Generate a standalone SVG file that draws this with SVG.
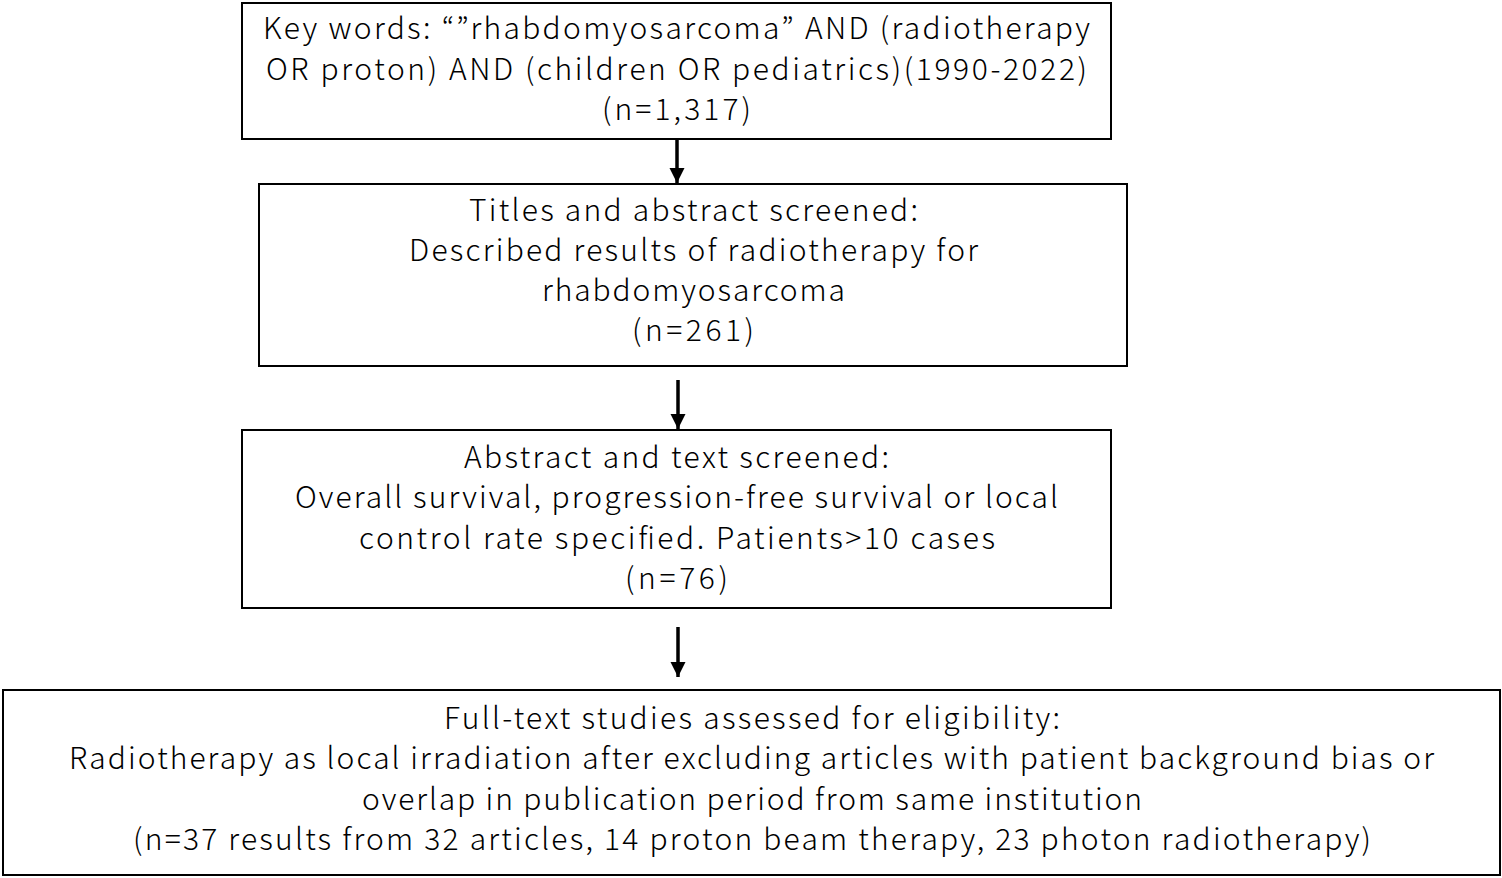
<svg xmlns="http://www.w3.org/2000/svg" width="1502" height="878" viewBox="0 0 1502 878">
<style>
.box{fill:#fff;stroke:#000;stroke-width:2}
.t{font-family:"Noto Sans CJK JP","Noto Sans",sans-serif;font-size:30px;font-weight:300;fill:#000;text-anchor:middle}
.c{stroke:#000;stroke-width:3.5;fill:none}
</style>
<defs>
<marker id="ah" markerUnits="userSpaceOnUse" markerWidth="18" markerHeight="18" refX="15" refY="7.5" orient="auto">
<path d="M0,0 L15,7.5 L0,15 Z" fill="#000"/>
</marker>
</defs>
<rect width="1502" height="878" fill="#fff"/>
<g id="connectors">
<line class="c" x1="677" y1="140" x2="677" y2="183" marker-end="url(#ah)"/>
<line class="c" x1="678" y1="380" x2="678" y2="429" marker-end="url(#ah)"/>
<line class="c" x1="678" y1="627" x2="678" y2="677" marker-end="url(#ah)"/>
</g>
<g id="node1">
<rect class="box" x="242" y="3" width="869" height="136"/>
<text class="t" x="676.5" y="39" textLength="827" lengthAdjust="spacing">Key words: “”rhabdomyosarcoma” AND (radiotherapy</text>
<text class="t" x="676.5" y="80" textLength="821" lengthAdjust="spacing">OR proton) AND (children OR pediatrics)(1990-2022)</text>
<text class="t" x="676.5" y="120" textLength="149" lengthAdjust="spacing">(n=1,317)</text>
</g>
<g id="node2">
<rect class="box" x="259" y="184" width="868" height="182"/>
<text class="t" x="693.5" y="221" textLength="449" lengthAdjust="spacing">Titles and abstract screened:</text>
<text class="t" x="693.5" y="261" textLength="569" lengthAdjust="spacing">Described results of radiotherapy for</text>
<text class="t" x="693.5" y="301" textLength="303" lengthAdjust="spacing">rhabdomyosarcoma</text>
<text class="t" x="693" y="341" textLength="122" lengthAdjust="spacing">(n=261)</text>
</g>
<g id="node3">
<rect class="box" x="242" y="430" width="869" height="178"/>
<text class="t" x="676.5" y="468" textLength="425" lengthAdjust="spacing">Abstract and text screened:</text>
<text class="t" x="676.5" y="508" textLength="763" lengthAdjust="spacing">Overall survival, progression-free survival or local</text>
<text class="t" x="677" y="549" textLength="636" lengthAdjust="spacing">control rate specified. Patients&gt;10 cases</text>
<text class="t" x="676.5" y="589" textLength="103" lengthAdjust="spacing">(n=76)</text>
</g>
<g id="node4">
<rect class="box" x="3" y="690" width="1497" height="185"/>
<text class="t" x="752" y="729" textLength="616" lengthAdjust="spacing">Full-text studies assessed for eligibility:</text>
<text class="t" x="751.5" y="769" textLength="1365" lengthAdjust="spacing">Radiotherapy as local irradiation after excluding articles with patient background bias or</text>
<text class="t" x="752" y="810" textLength="780" lengthAdjust="spacing">overlap in publication period from same institution</text>
<text class="t" x="752" y="850" textLength="1238" lengthAdjust="spacing">(n=37 results from 32 articles, 14 proton beam therapy, 23 photon radiotherapy)</text>
</g>
</svg>
